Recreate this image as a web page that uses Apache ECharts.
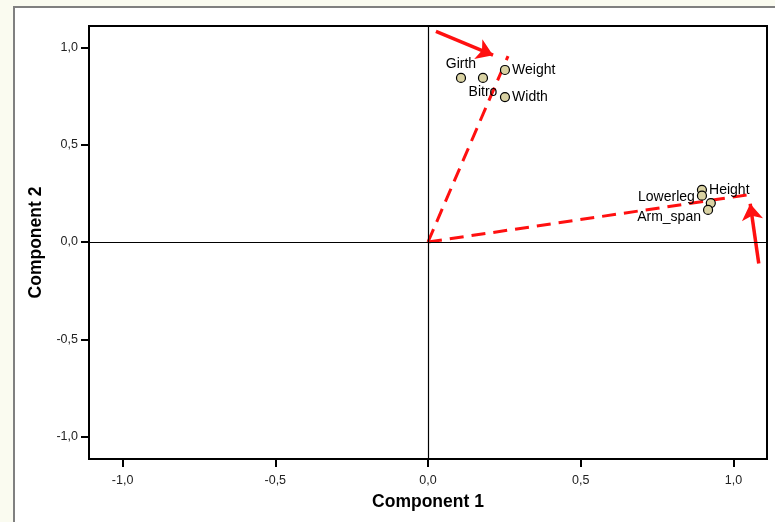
<!DOCTYPE html>
<html><head><meta charset="utf-8">
<script src="https://cdn.jsdelivr.net/npm/echarts@6/dist/echarts.min.js"></script>
<style>html,body{margin:0;padding:0;background:#fafbf0}#c{width:775px;height:522px}</style>
</head><body><div id="c"></div>
<script>
var names = ["Girth", "Bitro", "Weight", "Width", "Height", "Lowerleg", "", "Arm_span"];
var comp1 = [0.108, 0.180, 0.252, 0.252, 0.897, 0.897, 0.926, 0.917];
var comp2 = [0.843, 0.843, 0.884, 0.745, 0.268, 0.238, 0.200, 0.165];
var labelPos = ["top", "bottom", "right", "right", "right", "left", "right", "left"];
var vector1 = [[0, 0], [0.262, 0.955]];
var vector2 = [[0, 0], [1.047, 0.242]];
var arrow1 = [[0.026, 1.082], [0.213, 0.960]];
var arrow2 = [[1.083, -0.11], [1.055, 0.196]];
var ticks = [-1, -0.5, 0, 0.5, 1];

var fmt = function (v) { return Number(v).toFixed(1).replace('.', ','); };
var font = 'Liberation Sans, Arial, sans-serif';

var pts = names.map(function (n, i) {
  var lab = { show: n !== '', position: labelPos[i], formatter: n, distance: 2 };
  if (n === 'Arm_span') lab.offset = [0, 7];
  if (n === 'Lowerleg') lab.offset = [0, 1];
  return { value: [comp1[i], comp2[i]], name: n, label: lab };
});

var chart = echarts.init(document.getElementById('c'));
chart.setOption({
  backgroundColor: '#fafbf0',
  animation: false,
  graphic: [{
    type: 'rect', z: -10, silent: true,
    shape: { x: 14, y: 7, width: 775, height: 530 },
    style: { fill: '#ffffff', stroke: '#808080', lineWidth: 2 }
  }],
  grid: { left: 89, top: 26, right: 8, bottom: 63, show: true, borderColor: '#000', borderWidth: 2, backgroundColor: 'transparent' },
  xAxis: {
    type: 'value', min: -1.11, max: 1.11,
    name: 'Component 1', nameLocation: 'middle', nameGap: 34,
    nameTextStyle: { fontFamily: font, fontSize: 17.5, fontWeight: 'bold', color: '#000' },
    axisLine: { show: false, onZero: false },
    splitLine: { show: false },
    axisTick: { show: true, length: 8, customValues: ticks, lineStyle: { color: '#000', width: 2 } },
    axisLabel: { customValues: ticks, formatter: fmt, margin: 15, fontFamily: font, fontSize: 12.5, color: '#222' }
  },
  yAxis: {
    type: 'value', min: -1.115, max: 1.11,
    name: 'Component 2', nameLocation: 'middle', nameGap: 41,
    nameTextStyle: { fontFamily: font, fontSize: 17.5, fontWeight: 'bold', color: '#000' },
    axisLine: { show: false, onZero: false },
    splitLine: { show: false },
    axisTick: { show: true, length: 8, customValues: ticks, lineStyle: { color: '#000', width: 2 } },
    axisLabel: { customValues: ticks, formatter: fmt, margin: 11, fontFamily: font, fontSize: 12.5, color: '#222' }
  },
  series: [
    {
      type: 'line', data: vector1, symbol: 'none', z: 3,
      lineStyle: { color: '#ff1010', width: 3, type: [14, 8] }
    },
    {
      type: 'line', data: vector2, symbol: 'none', z: 3,
      lineStyle: { color: '#ff1010', width: 3, type: [14, 8] }
    },
    {
      type: 'lines', coordinateSystem: 'cartesian2d', z: 4,
      symbol: ['none', 'arrow'], symbolSize: 16,
      lineStyle: { color: '#ff1010', width: 3.5, opacity: 1, type: 'solid' },
      data: [{ coords: arrow1 }, { coords: arrow2 }]
    },
    {
      type: 'scatter', data: pts, symbol: 'circle', symbolSize: 9, z: 5,
      itemStyle: { color: '#d9d2a3', borderColor: '#000', borderWidth: 1.2, opacity: 1 },
      label: { color: '#000', fontFamily: font, fontSize: 14 },
      markLine: {
        silent: true, symbol: 'none', label: { show: false },
        lineStyle: { color: '#000', width: 1.2, type: 'solid' },
        data: [{ xAxis: 0 }, { yAxis: 0 }]
      }
    }
  ]
});
</script></body></html>
